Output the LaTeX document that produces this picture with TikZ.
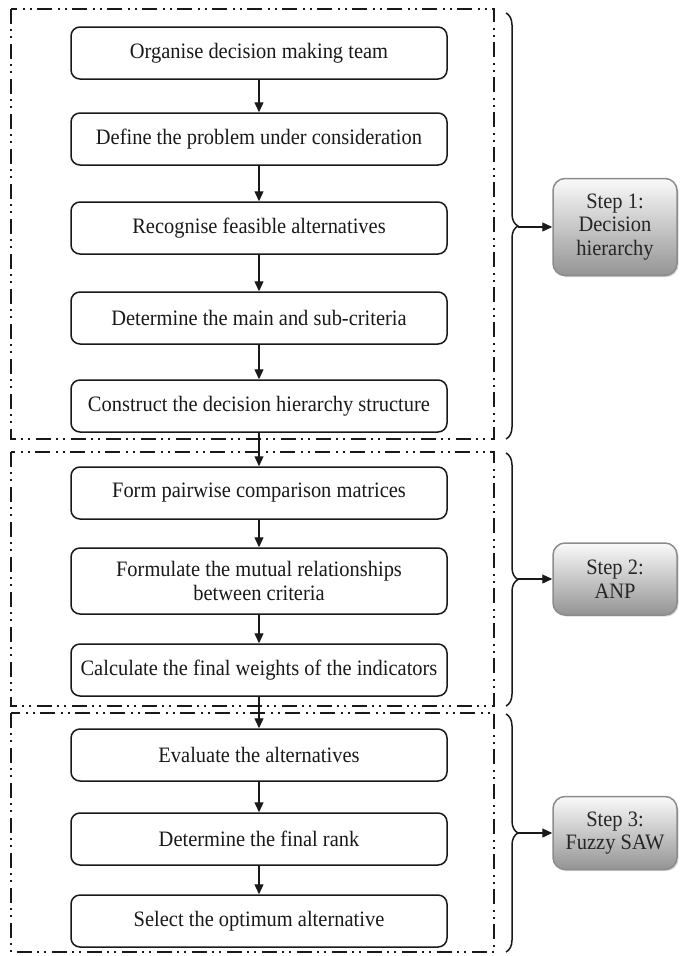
\documentclass[tikz,border=0pt]{standalone}
\usepackage{fontspec}
\setmainfont{Liberation Serif}[FakeStretch=0.93]
\usetikzlibrary{arrows.meta,decorations.pathreplacing,shadows}

\begin{document}
\begin{tikzpicture}[x=1pt,y=-1pt,
  font=\fontsize{22}{23.5}\selectfont,
  task/.style={draw=black!90,line width=1.5pt,rounded corners=9pt,minimum width=376pt,
    minimum height=52pt,inner sep=2pt,align=center,text=black!90},
  stepbox/.style={draw=black!45,line width=1.5pt,rounded corners=12pt,top color=black!2,
    bottom color=black!42,minimum width=124pt,inner sep=2pt,align=center,text=black!85,
    drop shadow={shadow xshift=1.5pt,shadow yshift=-1.5pt,opacity=0.3}},
  zone/.style={draw=black!90,line width=1.6pt,
    dash pattern=on 15pt off 5pt on 2pt off 5pt on 2pt off 6pt},
  bracket/.style={draw=black!90,line width=1.5pt,decorate,decoration={brace,amplitude=12pt}},
  arr/.style={draw=black!90,line width=1.3pt,-{Triangle[length=10pt,width=9pt]}}]
  \useasboundingbox (0,0) rectangle (681,956);

  \draw[zone] (11,9) rectangle (494,439);
  \draw[zone] (11,452) rectangle (494,706);
  \draw[zone] (11,713) rectangle (494,952);

  \node[task] (b1) at (259,53) {Organise decision making team};
  \node[task] (b2) at (259,139) {Define the problem under consideration};
  \node[task] (b3) at (259,228) {Recognise feasible alternatives};
  \node[task] (b4) at (259,318) {Determine the main and sub-criteria};
  \node[task] (b5) at (259,406) {Construct the decision hierarchy structure};

  \node[task] (b6) at (259,493) {Form pairwise comparison matrices};
  \node[task,minimum height=66pt] (b7) at (259,581) {Formulate the mutual relationships\\between criteria};
  \node[task] (b8) at (259,670) {Calculate the final weights of the indicators};

  \node[task] (b9) at (259,755) {Evaluate the alternatives};
  \node[task] (b10) at (259,839) {Determine the final rank};
  \node[task] (b11) at (259,921) {Select the optimum alternative};

  \foreach \a/\b in {b1/b2,b2/b3,b3/b4,b4/b5,b5/b6,b6/b7,b7/b8,b8/b9,b9/b10,b10/b11}
    \draw[arr] (\a) -- (\b);

  \draw[bracket] (506,13) -- (506,439);
  \draw[bracket] (506,453) -- (506,706);
  \draw[bracket] (506,714) -- (506,952);
  \coordinate (t1) at (518,227);
  \coordinate (t2) at (518,579);
  \coordinate (t3) at (518,833);

  \node[stepbox,minimum height=97pt] (s1) at (615,227) {Step 1:\\Decision\\hierarchy};
  \node[stepbox,minimum height=72pt] (s2) at (615,579) {Step 2:\\ANP};
  \node[stepbox,minimum height=73pt] (s3) at (615,833) {Step 3:\\Fuzzy SAW};

  \draw[arr] (t1) -- (s1);
  \draw[arr] (t2) -- (s2);
  \draw[arr] (t3) -- (s3);
\end{tikzpicture}
\end{document}
